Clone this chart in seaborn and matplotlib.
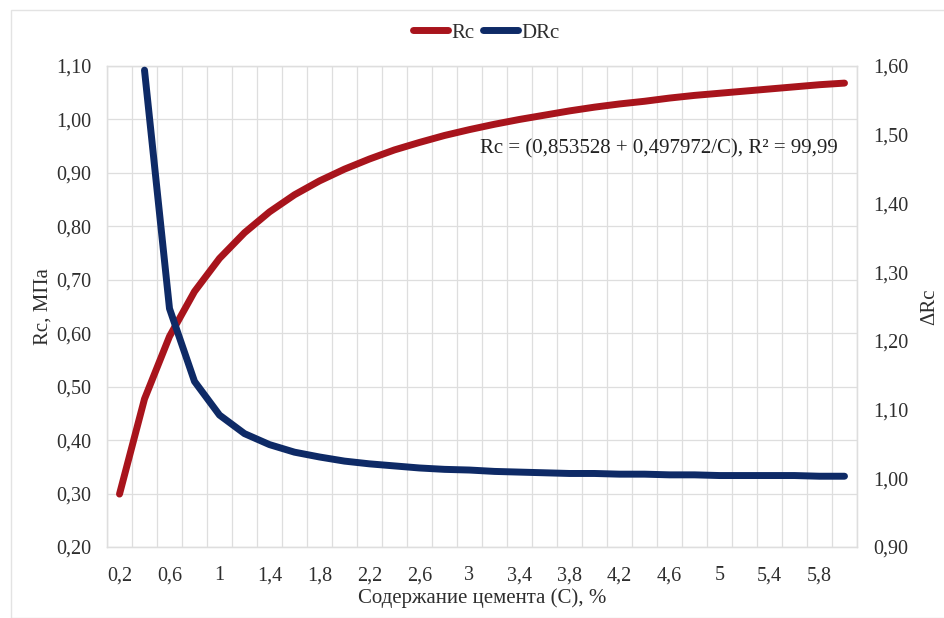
import numpy as np
import pandas as pd
import matplotlib.pyplot as plt
from matplotlib.lines import Line2D
from matplotlib.patches import Rectangle
import seaborn as sns

# cement content, %
cement = [0.2, 0.4, 0.6, 0.8, 1.0, 1.2, 1.4, 1.6, 1.8, 2.0,
          2.2, 2.4, 2.6, 2.8, 3.0, 3.2, 3.4, 3.6, 3.8, 4.0,
          4.2, 4.4, 4.6, 4.8, 5.0, 5.2, 5.4, 5.6, 5.8, 6.0]
# compressive strength Rc, MPa
rc = [0.299, 0.477, 0.594, 0.678, 0.740, 0.788, 0.827, 0.859, 0.885, 0.907,
      0.926, 0.943, 0.957, 0.970, 0.981, 0.991, 1.000, 1.008, 1.016, 1.023,
      1.029, 1.034, 1.040, 1.045, 1.049, 1.053, 1.057, 1.061, 1.065, 1.068]
# relative increment dRc (no value for the first point)
drc = [np.nan, 1.594, 1.247, 1.141, 1.092, 1.065, 1.049, 1.038, 1.031, 1.025,
       1.021, 1.018, 1.015, 1.013, 1.012, 1.010, 1.009, 1.008, 1.007, 1.007,
       1.006, 1.006, 1.005, 1.005, 1.004, 1.004, 1.004, 1.004, 1.003, 1.003]

xtick_vals = [0.2, 0.6, 1.0, 1.4, 1.8, 2.2, 2.6, 3.0, 3.4, 3.8, 4.2, 4.6, 5.0, 5.4, 5.8]
left_ticks = [0.20, 0.30, 0.40, 0.50, 0.60, 0.70, 0.80, 0.90, 1.00, 1.10]
right_ticks = [0.90, 1.00, 1.10, 1.20, 1.30, 1.40, 1.50, 1.60]

df = pd.DataFrame({"C": cement, "Rc": rc, "DRc": drc})

sns.set_theme(style="white")
plt.rcParams["font.family"] = ["Liberation Serif", "DejaVu Serif"]

RED = "#A8141C"
BLUE = "#0E2A66"
GRID = "#DEDEDE"
TXT = "#2E2E2E"
FS = 14.5


def comma(v, nd=2):
    return f"{v:.{nd}f}".replace(".", ",")


fig = plt.figure(figsize=(9.44, 6.18), dpi=100)
fig.patches.append(Rectangle((11 / 944, 0), 1, 1 - 10 / 618, transform=fig.transFigure,
                             fill=False, edgecolor="#E3E3E3", linewidth=1.0))
ax = fig.add_axes([107 / 944, 1 - 547 / 618, 750 / 944, 481 / 618])
ax2 = ax.twinx()

sns.lineplot(data=df, x="C", y="Rc", ax=ax, color=RED, linewidth=5,
             solid_capstyle="round", zorder=3)
sns.lineplot(data=df.dropna(), x="C", y="DRc", ax=ax2, color=BLUE, linewidth=5,
             solid_capstyle="round", zorder=3)

ax.set_xlim(0.1, 6.1)
ax.set_ylim(0.2, 1.1)
ax2.set_ylim(0.9, 1.6)

ax.set_xticks(xtick_vals)
ax.set_xticklabels([str(int(v)) if v == int(v) else comma(v, 1) for v in xtick_vals],
                   fontsize=FS, color=TXT)
ax.set_xticks(np.arange(0.1, 6.15, 0.2), minor=True)
ax.set_yticks(left_ticks)
ax.set_yticklabels([comma(v) for v in left_ticks], fontsize=FS, color=TXT)
ax2.set_yticks(right_ticks)
ax2.set_yticklabels([comma(v) for v in right_ticks], fontsize=FS, color=TXT)

ax.grid(False)
ax.grid(True, which="minor", axis="x", color=GRID, linewidth=0.9)
ax.grid(True, which="major", axis="y", color=GRID, linewidth=0.9)
ax.set_axisbelow(True)
ax.tick_params(axis="x", which="both", length=0, pad=14)
ax.tick_params(axis="y", which="both", length=0, pad=11)
ax2.tick_params(axis="y", length=0, pad=12)
for a in (ax, ax2):
    for sp in a.spines.values():
        sp.set_color(GRID)
        sp.set_linewidth(0.9)

ax.set_xlabel("Содержание цемента (С), %", fontsize=15, color=TXT, labelpad=2)
ax.set_ylabel("Rc, МПа", fontsize=15, color=TXT, labelpad=3)
ax2.set_ylabel("ΔRc", fontsize=15, color=TXT, labelpad=8)

ax.text(5.95, 0.945, "Rc = (0,853528 + 0,497972/C), R² = 99,99",
        ha="right", va="center", fontsize=15, color="#222222")

handles = [Line2D([], [], color=RED, linewidth=5, solid_capstyle="round"),
           Line2D([], [], color=BLUE, linewidth=5, solid_capstyle="round")]
fig.legend(handles, ["Rc", "DRc"], loc="center", bbox_to_anchor=(486 / 944, 1 - 33 / 618),
           ncol=2, frameon=False, fontsize=15, handlelength=1.7, handletextpad=0.15,
           columnspacing=0.4, labelcolor=TXT)

fig.savefig("out.png", dpi=100, facecolor="white")
